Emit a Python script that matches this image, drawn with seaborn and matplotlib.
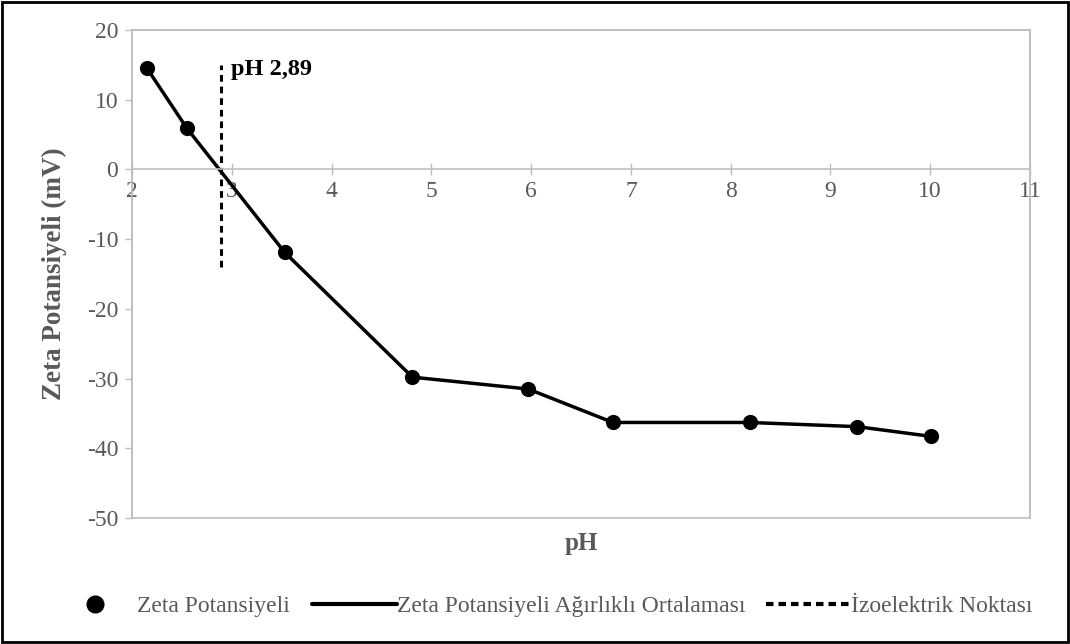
import matplotlib
matplotlib.use("Agg")
import matplotlib.pyplot as plt
import seaborn as sns
import pandas as pd
from matplotlib.lines import Line2D
from matplotlib.patches import Rectangle

# değerler
ph = [2.15, 2.55, 3.53, 4.81, 5.97, 6.82, 8.19, 9.27, 10.01]
zeta = [14.5, 5.9, -11.9, -29.8, -31.5, -36.3, -36.3, -36.9, -38.3]
iep_ph = [2.89, 2.89]
iep_span = [-14.0, 15.0]
iep_label = "pH 2,89"

x_ticks = [2, 3, 4, 5, 6, 7, 8, 9, 10, 11]
y_ticks = [20, 10, 0, -10, -20, -30, -40, -50]

gray_txt = "#595959"
gray_line = "#BFBFBF"

sns.set_style("white")
plt.rcParams["font.family"] = ["Liberation Serif", "DejaVu Serif"]
plt.rcParams["axes.unicode_minus"] = False

df = pd.DataFrame({"pH": ph, "zeta": zeta})
iep = pd.DataFrame({"pH": iep_ph, "zeta": iep_span})

fig = plt.figure(figsize=(10.7, 6.44), dpi=100)
ax = fig.add_axes([0.1234, 0.1957, 0.8392, 0.7577])

sns.lineplot(data=iep, x="pH", y="zeta", ax=ax, color="black", lw=2.2,
             linestyle=(0, (2.2, 1.6)), sort=False, estimator=None)
sns.lineplot(data=df, x="pH", y="zeta", ax=ax, color="black", lw=2.5,
             sort=False, estimator=None)
sns.scatterplot(data=df, x="pH", y="zeta", ax=ax, color="black", s=120,
                edgecolor="black", linewidth=0, zorder=5)

ax.text(2.99, 14.3, iep_label, fontsize=17.5, fontweight="bold", color="black",
        ha="left", va="center")

ax.set_xlim(2, 11)
ax.set_ylim(-50, 20)
ax.set_xticks(x_ticks)
ax.set_yticks(y_ticks)

# eksen çizgileri (Excel görünümü)
for s in ["top", "right", "left"]:
    ax.spines[s].set_color(gray_line)
    ax.spines[s].set_linewidth(1.2)
ax.spines["bottom"].set_position(("data", 0))
ax.spines["bottom"].set_color(gray_line)
ax.spines["bottom"].set_linewidth(1.2)
ax.add_patch(Rectangle((0, 0), 1, 1, transform=ax.transAxes, fill=False,
                       ec=gray_line, lw=1.2, clip_on=False, zorder=0))

ax.tick_params(axis="x", direction="inout", length=9, width=1, color=gray_line,
               labelsize=17, labelcolor=gray_txt, pad=4, bottom=True)
ax.tick_params(axis="y", direction="out", length=5, width=1, color=gray_line,
               labelsize=17, labelcolor=gray_txt, pad=5, left=True)

ax.set_xlabel("pH", fontsize=18, fontweight="bold", color=gray_txt)
ax.set_ylabel("Zeta Potansiyeli (mV)", fontsize=19.5, fontweight="bold",
              color=gray_txt, labelpad=14)
ax.xaxis.set_label_coords(0.5, -0.028)

handles = [
    Line2D([], [], color="black", marker="o", linestyle="none", markersize=12),
    Line2D([], [], color="black", lw=3),
    Line2D([], [], color="black", lw=3, linestyle=(0, (1.8, 1.2))),
]
labels = ["Zeta Potansiyeli", "Zeta Potansiyeli Ağırlıklı Ortalaması",
          "İzoelektrik Noktası"]
leg = fig.legend(handles, labels, loc="center", bbox_to_anchor=(0.507, 0.059),
                 ncol=3, frameon=False, fontsize=17, handlelength=3.6,
                 columnspacing=0.9, handletextpad=0.0, labelcolor=gray_txt)

fig.patches.append(Rectangle((0.002, 0.003), 0.996, 0.994,
                             transform=fig.transFigure, fill=False,
                             ec="black", lw=2))

fig.savefig("out.png", dpi=100)
